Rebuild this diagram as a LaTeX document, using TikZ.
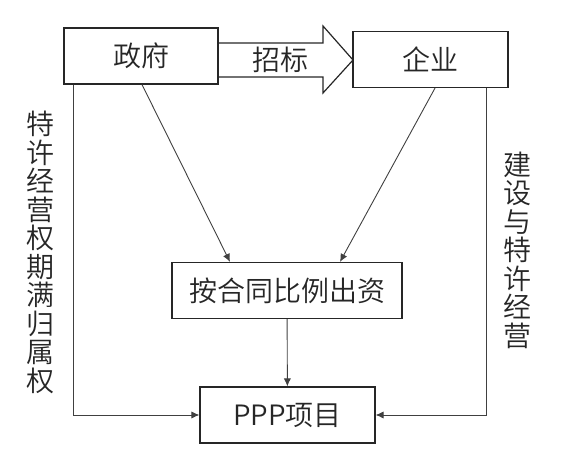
\documentclass[tikz,border=0pt]{standalone}
\usepackage{fontspec}
\setmainfont{Noto Sans CJK SC DemiLight}
\usetikzlibrary{arrows.meta}

\tikzset{
  box/.style={draw=black!85, line width=0.6pt, minimum height=28pt,
    inner sep=0pt, text=black!85, font=\fontsize{14pt}{14pt}\selectfont},
  vtext/.style={align=center, inner sep=0pt, text=black!85,
    font=\fontsize{14pt}{14.25pt}\selectfont},
  link/.style={draw=black!75, line width=0.45pt, ->}
}

\begin{document}
\begin{tikzpicture}[x=0.5pt,y=-0.5pt,>={Latex[length=4pt,width=3.6pt]}]
\useasboundingbox (0,0) rectangle (563,458);

\node (gov) [box,minimum width=77pt] at (141,56) {政府};
\node (ent) [box,minimum width=77.5pt] at (430.5,59.5) {企业};
\node (inv) [box,minimum width=115pt] at (287,290.5) {按合同比例出资};
\node (ppp) [box,minimum width=87.5pt] at (287.5,415) {PPP项目};

% tender arrow
\draw[draw=black!85, line width=0.6pt] (218,43) -- (323,43) -- (323,26)
    -- (353,60) -- (323,93) -- (323,77) -- (218,77);
\node (bid) [vtext] at (280,60) {招标};

\draw[link] ([xshift=0.5pt]gov.south) -- ([xshift=-28.5pt]inv.north);
\draw[link] ([xshift=2.25pt]ent.south) -- ([xshift=26.5pt]inv.north);
\draw[link] (inv) -- (ppp);
\draw[link] ([xshift=-34pt]gov.south) |- (ppp.west);
\draw[link] ([xshift=27.75pt]ent.south) |- (ppp.east);

\node (back) [vtext] at (40,252.5) {特\\许\\经\\营\\权\\期\\满\\归\\属\\权};
\node (run) [vtext] at (517,250) {建\\设\\与\\特\\许\\经\\营};
\end{tikzpicture}
\end{document}
